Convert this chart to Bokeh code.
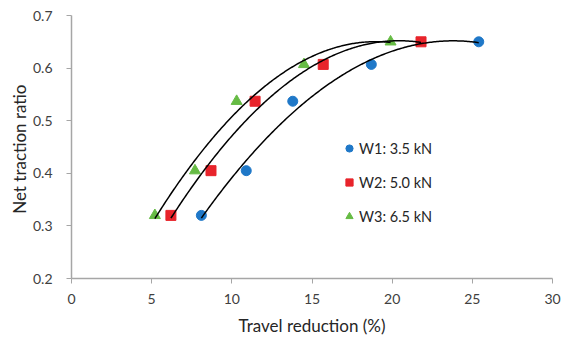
import numpy as np
from bokeh.plotting import figure
from bokeh.models import Legend, LegendItem, FixedTicker
from bokeh.embed import file_html
from bokeh.resources import INLINE

# Data
ntr = [0.32, 0.405, 0.537, 0.607, 0.65]
w1_x = [8.1, 10.9, 13.8, 18.7, 25.4]
w2_x = [6.2, 8.7, 11.45, 15.7, 21.8]
w3_x = [5.2, 7.7, 10.3, 14.5, 19.9]
labels = ["W1: 3.5 kN", "W2: 5.0 kN", "W3: 6.5 kN"]
colors = ["#1f78c8", "#e8242b", "#66bb44"]
x_ticks = [0, 5, 10, 15, 20, 25, 30]
y_ticks = [0.2, 0.3, 0.4, 0.5, 0.6, 0.7]

FONT = "Lato"
p = figure(width=570, height=338, x_range=(0, 30), y_range=(0.2, 0.7),
           output_backend="svg", toolbar_location=None,
           min_border_left=71, min_border_right=18, min_border_top=15, min_border_bottom=60)
p.outline_line_color = None
p.xgrid.grid_line_color = None
p.ygrid.grid_line_color = None

for ax in (p.xaxis[0], p.yaxis[0]):
    ax.axis_line_color = "#a6a6a6"
    ax.axis_line_width = 1.5
    ax.major_tick_line_color = "#a6a6a6"
    ax.major_tick_out = 5
    ax.major_tick_in = 0
    ax.minor_tick_line_color = None
    ax.major_label_text_font = FONT
    ax.major_label_text_font_size = "14px"
    ax.major_label_text_color = "#404040"
    ax.axis_label_text_font = FONT
    ax.axis_label_text_font_size = "17px"
    ax.axis_label_text_font_style = "normal"
    ax.axis_label_text_color = "#262626"

p.xaxis.ticker = FixedTicker(ticks=x_ticks)
p.yaxis.ticker = FixedTicker(ticks=y_ticks)
p.yaxis.formatter.use_scientific = False
p.xaxis.axis_label = "Travel reduction (%)"
p.yaxis.axis_label = "Net  traction ratio"
p.xaxis.major_label_standoff = 10
p.yaxis.major_label_standoff = 14
p.xaxis.axis_label_standoff = 8
p.yaxis.axis_label_standoff = 0

r1 = p.scatter(w1_x, ntr, marker="circle", size=10, color=colors[0])
r2 = p.scatter(w2_x, ntr, marker="square", size=10, color=colors[1])
r3 = p.scatter(w3_x, ntr, marker="triangle", size=11, color=colors[2])

# Polynomial (order 2) trendlines, as in the original
for xs in (w1_x, w2_x, w3_x):
    c = np.polyfit(xs, ntr, 2)
    xx = np.linspace(min(xs), max(xs), 200)
    p.line(xx, np.polyval(c, xx), line_color="black", line_width=1.5)

legend = Legend(items=[LegendItem(label=labels[0], renderers=[r1]),
                       LegendItem(label=labels[1], renderers=[r2]),
                       LegendItem(label=labels[2], renderers=[r3])],
                location=(269, 53))
legend.border_line_color = None
legend.background_fill_alpha = 0
legend.padding = 0
legend.margin = 0
legend.spacing = 16
legend.glyph_height = 18
legend.glyph_width = 18
legend.label_height = 18
legend.label_standoff = 1
legend.label_text_font = FONT
legend.label_text_font_size = "14.5px"
legend.label_text_color = "#262626"
p.add_layout(legend)

open("out.html", "w").write(file_html(p, INLINE))
